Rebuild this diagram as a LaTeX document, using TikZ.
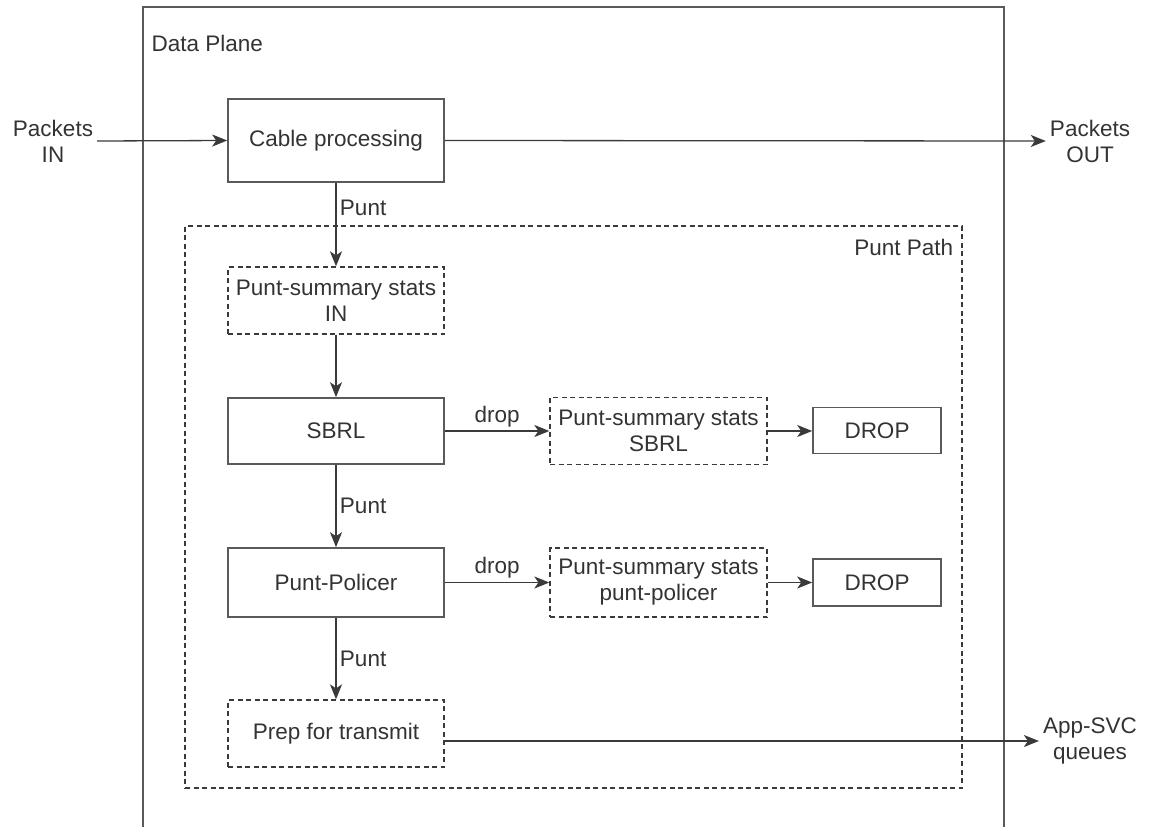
\documentclass[tikz,border=0pt]{standalone}
\usepackage{fontspec}
\setmainfont{Liberation Sans}
\usetikzlibrary{arrows.meta,positioning}
\definecolor{cEdge}{HTML}{5A5A5A}
\definecolor{cInk}{HTML}{333333}
\definecolor{cDash}{HTML}{3A3A3A}
\tikzset{
  block/.style={draw=cEdge, line width=1.6pt, align=center, inner sep=3pt,
     minimum width=216pt, font=\fontsize{22.5}{26}\selectfont, text=cInk},
  dashbox/.style={block, draw=cDash, line width=1.3pt, dash pattern=on 5pt off 3.5pt},
  dropbox/.style={block, minimum width=128pt, minimum height=46pt},
  lbl/.style={font=\fontsize{22.5}{26}\selectfont, text=cInk, align=center},
  flow/.style={-{Stealth[length=15pt, width=12pt, inset=4pt]}, line width=1.3pt, draw=cDash},
}

\begin{document}
\begin{tikzpicture}[x=1pt, y=-1pt]
  \useasboundingbox (0,0) rectangle (1149,827);
  % data plane frame, open at the bottom
  \draw[cEdge, line width=1.8pt] (143,827) -- (143,7) -- (1004,7) -- (1004,827);
  \node[lbl, anchor=west] (dp) at (148,43) {Data Plane};
  % punt path frame
  \node[dashbox, minimum width=777pt, minimum height=562pt] (pp) at (573.5,507) {};
  \node[lbl, anchor=north east] (pplbl) at ([xshift=-6pt, yshift=-10pt]pp.north east) {Punt Path};

  \node[block, minimum height=83pt] (cable) at (336,140.5) {Cable processing};
  \node[dashbox, minimum height=67pt] (statsin) at (336,300.5) {Punt-summary stats\\IN};
  \node[block, minimum height=66pt] (sbrl) at (336,431) {SBRL};
  \node[dashbox, minimum width=217pt, minimum height=67pt] (sbrlstats) at (658.5,431) {Punt-summary stats\\SBRL};
  \node[dropbox] (drop1) at (877,430.5) {DROP};
  \node[block, minimum height=69pt] (policer) at (336,582.5) {Punt-Policer};
  \node[dashbox, minimum width=217pt, minimum height=69pt] (polstats) at (658.5,582.5) {Punt-summary stats\\punt-policer};
  \node[dropbox, minimum height=47pt] (drop2) at (877,582.5) {DROP};
  \node[dashbox, minimum height=67pt] (prep) at (336,733.5) {Prep for transmit};

  \node[lbl, inner sep=4pt] (pin) at (53,141) {Packets\\IN};
  \node[lbl, inner sep=4pt] (pout) at (1090,141) {Packets\\OUT};
  \node[lbl, inner sep=4pt] (app) at (1090,741) {App-SVC\\queues};

  \draw[flow] (pin.east) -- (cable.west);
  \draw[flow] (cable.east) -- (pout.west);
  \draw[flow] (cable.south) -- node[lbl, right, pos=0.3] {Punt} (statsin.north);
  \draw[flow] (statsin.south) -- (sbrl.north);
  \draw[flow] (sbrl.east) -- node[lbl, above] {drop} (sbrlstats.west);
  \draw[flow] (sbrlstats.east) -- (drop1.west |- sbrlstats.east);
  \draw[flow] (sbrl.south) -- node[lbl, right] {Punt} (policer.north);
  \draw[flow] (policer.east) -- node[lbl, above] {drop} (polstats.west);
  \draw[flow] (polstats.east) -- (drop2.west);
  \draw[flow] (policer.south) -- node[lbl, right] {Punt} (prep.north);
  \draw[flow] (prep.east |- app.west) -- (app.west);
\end{tikzpicture}
\end{document}
